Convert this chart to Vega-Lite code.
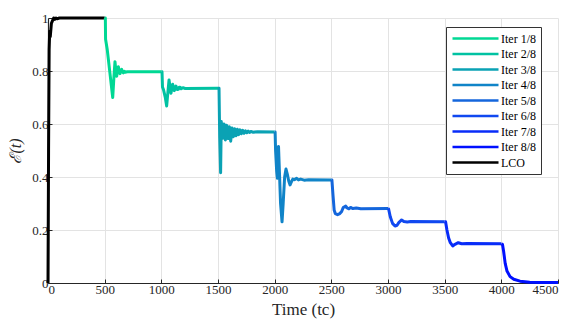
{
  "$schema": "https://vega.github.io/schema/vega-lite/v6.json",
  "width": 510,
  "height": 265,
  "autosize": {"type": "none"},
  "padding": {"left": 48, "top": 18, "right": 23, "bottom": 41},
  "background": "white",
  "config": {
    "font": "Liberation Serif",
    "view": {"stroke": null},
    "legend": {
      "orient": "none",
      "legendX": 398,
      "legendY": 9,
      "symbolType": "M-1,0H8.2",
      "symbolSize": 100,
      "symbolStrokeWidth": 2.5,
      "labelOffset": 37,
      "labelFont": "Liberation Serif",
      "labelFontSize": 12,
      "labelColor": "#000000",
      "rowPadding": 2.5,
      "padding": 5,
      "fillColor": "white",
      "strokeColor": "#333333"
    }
  },
  "data": {
    "values": [
      {"s": "LCO", "t": 0, "e": 0},
      {"s": "LCO", "t": 5, "e": 0.5},
      {"s": "LCO", "t": 10, "e": 0.88},
      {"s": "LCO", "t": 15, "e": 0.95},
      {"s": "LCO", "t": 20, "e": 0.93},
      {"s": "LCO", "t": 30, "e": 0.98},
      {"s": "LCO", "t": 40, "e": 0.99},
      {"s": "LCO", "t": 50, "e": 1.0},
      {"s": "LCO", "t": 60, "e": 0.995},
      {"s": "LCO", "t": 70, "e": 1.0},
      {"s": "LCO", "t": 80, "e": 0.997},
      {"s": "LCO", "t": 100, "e": 1.0},
      {"s": "LCO", "t": 500, "e": 1.0},

      {"s": "Iter 1/8", "t": 500, "e": 1.0},
      {"s": "Iter 1/8", "t": 506, "e": 1.0},
      {"s": "Iter 1/8", "t": 508, "e": 0.92},
      {"s": "Iter 1/8", "t": 523, "e": 0.88},
      {"s": "Iter 1/8", "t": 547, "e": 0.79},
      {"s": "Iter 1/8", "t": 571, "e": 0.70},
      {"s": "Iter 1/8", "t": 582, "e": 0.78},
      {"s": "Iter 1/8", "t": 591, "e": 0.835},
      {"s": "Iter 1/8", "t": 599, "e": 0.80},
      {"s": "Iter 1/8", "t": 606, "e": 0.78},
      {"s": "Iter 1/8", "t": 613, "e": 0.80},
      {"s": "Iter 1/8", "t": 621, "e": 0.816},
      {"s": "Iter 1/8", "t": 628, "e": 0.80},
      {"s": "Iter 1/8", "t": 635, "e": 0.79},
      {"s": "Iter 1/8", "t": 643, "e": 0.80},
      {"s": "Iter 1/8", "t": 650, "e": 0.806},
      {"s": "Iter 1/8", "t": 658, "e": 0.797},
      {"s": "Iter 1/8", "t": 665, "e": 0.793},
      {"s": "Iter 1/8", "t": 673, "e": 0.799},
      {"s": "Iter 1/8", "t": 680, "e": 0.795},
      {"s": "Iter 1/8", "t": 700, "e": 0.797},
      {"s": "Iter 1/8", "t": 1000, "e": 0.797},

      {"s": "Iter 2/8", "t": 1000, "e": 0.797},
      {"s": "Iter 2/8", "t": 1006, "e": 0.797},
      {"s": "Iter 2/8", "t": 1010, "e": 0.74},
      {"s": "Iter 2/8", "t": 1020, "e": 0.728},
      {"s": "Iter 2/8", "t": 1035, "e": 0.70},
      {"s": "Iter 2/8", "t": 1047, "e": 0.668},
      {"s": "Iter 2/8", "t": 1058, "e": 0.72},
      {"s": "Iter 2/8", "t": 1068, "e": 0.766},
      {"s": "Iter 2/8", "t": 1077, "e": 0.74},
      {"s": "Iter 2/8", "t": 1085, "e": 0.716},
      {"s": "Iter 2/8", "t": 1093, "e": 0.735},
      {"s": "Iter 2/8", "t": 1100, "e": 0.75},
      {"s": "Iter 2/8", "t": 1107, "e": 0.738},
      {"s": "Iter 2/8", "t": 1114, "e": 0.726},
      {"s": "Iter 2/8", "t": 1122, "e": 0.735},
      {"s": "Iter 2/8", "t": 1129, "e": 0.743},
      {"s": "Iter 2/8", "t": 1140, "e": 0.73},
      {"s": "Iter 2/8", "t": 1150, "e": 0.731},
      {"s": "Iter 2/8", "t": 1158, "e": 0.739},
      {"s": "Iter 2/8", "t": 1165, "e": 0.739},
      {"s": "Iter 2/8", "t": 1175, "e": 0.733},
      {"s": "Iter 2/8", "t": 1190, "e": 0.737},
      {"s": "Iter 2/8", "t": 1210, "e": 0.734},
      {"s": "Iter 2/8", "t": 1500, "e": 0.735},

      {"s": "Iter 3/8", "t": 1500, "e": 0.735},
      {"s": "Iter 3/8", "t": 1509, "e": 0.735},
      {"s": "Iter 3/8", "t": 1515, "e": 0.55},
      {"s": "Iter 3/8", "t": 1523, "e": 0.416},
      {"s": "Iter 3/8", "t": 1529, "e": 0.609},
      {"s": "Iter 3/8", "t": 1541, "e": 0.546},
      {"s": "Iter 3/8", "t": 1553, "e": 0.60},
      {"s": "Iter 3/8", "t": 1565, "e": 0.54},
      {"s": "Iter 3/8", "t": 1576, "e": 0.595},
      {"s": "Iter 3/8", "t": 1588, "e": 0.545},
      {"s": "Iter 3/8", "t": 1600, "e": 0.59},
      {"s": "Iter 3/8", "t": 1612, "e": 0.535},
      {"s": "Iter 3/8", "t": 1623, "e": 0.585},
      {"s": "Iter 3/8", "t": 1635, "e": 0.552},
      {"s": "Iter 3/8", "t": 1647, "e": 0.582},
      {"s": "Iter 3/8", "t": 1659, "e": 0.556},
      {"s": "Iter 3/8", "t": 1671, "e": 0.58},
      {"s": "Iter 3/8", "t": 1682, "e": 0.56},
      {"s": "Iter 3/8", "t": 1694, "e": 0.578},
      {"s": "Iter 3/8", "t": 1706, "e": 0.563},
      {"s": "Iter 3/8", "t": 1718, "e": 0.576},
      {"s": "Iter 3/8", "t": 1730, "e": 0.565},
      {"s": "Iter 3/8", "t": 1742, "e": 0.574},
      {"s": "Iter 3/8", "t": 1754, "e": 0.567},
      {"s": "Iter 3/8", "t": 1766, "e": 0.573},
      {"s": "Iter 3/8", "t": 1778, "e": 0.568},
      {"s": "Iter 3/8", "t": 1790, "e": 0.572},
      {"s": "Iter 3/8", "t": 1810, "e": 0.569},
      {"s": "Iter 3/8", "t": 1850, "e": 0.571},
      {"s": "Iter 3/8", "t": 2000, "e": 0.570},

      {"s": "Iter 4/8", "t": 2000, "e": 0.570},
      {"s": "Iter 4/8", "t": 2004, "e": 0.570},
      {"s": "Iter 4/8", "t": 2008, "e": 0.50},
      {"s": "Iter 4/8", "t": 2018, "e": 0.42},
      {"s": "Iter 4/8", "t": 2024, "e": 0.395},
      {"s": "Iter 4/8", "t": 2030, "e": 0.50},
      {"s": "Iter 4/8", "t": 2034, "e": 0.515},
      {"s": "Iter 4/8", "t": 2042, "e": 0.42},
      {"s": "Iter 4/8", "t": 2052, "e": 0.30},
      {"s": "Iter 4/8", "t": 2065, "e": 0.231},
      {"s": "Iter 4/8", "t": 2075, "e": 0.30},
      {"s": "Iter 4/8", "t": 2088, "e": 0.40},
      {"s": "Iter 4/8", "t": 2100, "e": 0.43},
      {"s": "Iter 4/8", "t": 2112, "e": 0.41},
      {"s": "Iter 4/8", "t": 2124, "e": 0.385},
      {"s": "Iter 4/8", "t": 2136, "e": 0.37},
      {"s": "Iter 4/8", "t": 2148, "e": 0.382},
      {"s": "Iter 4/8", "t": 2160, "e": 0.392},
      {"s": "Iter 4/8", "t": 2175, "e": 0.39},
      {"s": "Iter 4/8", "t": 2194, "e": 0.395},
      {"s": "Iter 4/8", "t": 2210, "e": 0.389},
      {"s": "Iter 4/8", "t": 2230, "e": 0.392},
      {"s": "Iter 4/8", "t": 2260, "e": 0.388},
      {"s": "Iter 4/8", "t": 2300, "e": 0.390},
      {"s": "Iter 4/8", "t": 2500, "e": 0.389},

      {"s": "Iter 5/8", "t": 2500, "e": 0.389},
      {"s": "Iter 5/8", "t": 2505, "e": 0.389},
      {"s": "Iter 5/8", "t": 2515, "e": 0.33},
      {"s": "Iter 5/8", "t": 2525, "e": 0.275},
      {"s": "Iter 5/8", "t": 2535, "e": 0.262},
      {"s": "Iter 5/8", "t": 2555, "e": 0.258},
      {"s": "Iter 5/8", "t": 2575, "e": 0.262},
      {"s": "Iter 5/8", "t": 2591, "e": 0.27},
      {"s": "Iter 5/8", "t": 2605, "e": 0.285},
      {"s": "Iter 5/8", "t": 2627, "e": 0.29},
      {"s": "Iter 5/8", "t": 2640, "e": 0.283},
      {"s": "Iter 5/8", "t": 2655, "e": 0.28},
      {"s": "Iter 5/8", "t": 2670, "e": 0.285},
      {"s": "Iter 5/8", "t": 2690, "e": 0.281},
      {"s": "Iter 5/8", "t": 2720, "e": 0.283},
      {"s": "Iter 5/8", "t": 2760, "e": 0.28},
      {"s": "Iter 5/8", "t": 3000, "e": 0.281},

      {"s": "Iter 6/8", "t": 3000, "e": 0.281},
      {"s": "Iter 6/8", "t": 3005, "e": 0.28},
      {"s": "Iter 6/8", "t": 3020, "e": 0.25},
      {"s": "Iter 6/8", "t": 3040, "e": 0.225},
      {"s": "Iter 6/8", "t": 3062, "e": 0.215},
      {"s": "Iter 6/8", "t": 3080, "e": 0.218},
      {"s": "Iter 6/8", "t": 3095, "e": 0.228},
      {"s": "Iter 6/8", "t": 3120, "e": 0.238},
      {"s": "Iter 6/8", "t": 3140, "e": 0.232},
      {"s": "Iter 6/8", "t": 3170, "e": 0.23},
      {"s": "Iter 6/8", "t": 3200, "e": 0.232},
      {"s": "Iter 6/8", "t": 3500, "e": 0.231},

      {"s": "Iter 7/8", "t": 3500, "e": 0.231},
      {"s": "Iter 7/8", "t": 3508, "e": 0.231},
      {"s": "Iter 7/8", "t": 3520, "e": 0.20},
      {"s": "Iter 7/8", "t": 3535, "e": 0.17},
      {"s": "Iter 7/8", "t": 3550, "e": 0.152},
      {"s": "Iter 7/8", "t": 3571, "e": 0.14},
      {"s": "Iter 7/8", "t": 3591, "e": 0.146},
      {"s": "Iter 7/8", "t": 3620, "e": 0.152},
      {"s": "Iter 7/8", "t": 3650, "e": 0.148},
      {"s": "Iter 7/8", "t": 3700, "e": 0.149},
      {"s": "Iter 7/8", "t": 4000, "e": 0.148},

      {"s": "Iter 8/8", "t": 4000, "e": 0.148},
      {"s": "Iter 8/8", "t": 4010, "e": 0.146},
      {"s": "Iter 8/8", "t": 4020, "e": 0.12},
      {"s": "Iter 8/8", "t": 4034, "e": 0.074},
      {"s": "Iter 8/8", "t": 4050, "e": 0.045},
      {"s": "Iter 8/8", "t": 4077, "e": 0.024},
      {"s": "Iter 8/8", "t": 4110, "e": 0.014},
      {"s": "Iter 8/8", "t": 4165, "e": 0.007},
      {"s": "Iter 8/8", "t": 4250, "e": 0.003},
      {"s": "Iter 8/8", "t": 4350, "e": 0.002},
      {"s": "Iter 8/8", "t": 4500, "e": 0.002}
    ]
  },
  "mark": {"type": "line", "strokeWidth": 3, "strokeJoin": "round"},
  "encoding": {
    "x": {
      "field": "t",
      "type": "quantitative",
      "scale": {"domain": [0, 4500], "nice": false},
      "axis": {
        "values": [0, 500, 1000, 1500, 2000, 2500, 3000, 3500, 4000, 4500],
        "format": "d",
        "title": "Time (tc)",
        "titlePadding": 5,
        "labelFont": "Liberation Serif",
        "labelFontSize": 13,
        "labelColor": "#262626",
        "labelPadding": 4,
        "titleFont": "Liberation Serif",
        "titleFontSize": 17,
        "titleFontWeight": "normal",
        "titleColor": "#262626",
        "gridColor": "#e3e3e3",
        "domainColor": "#262626",
        "domainWidth": 1.2,
        "tickColor": "#262626",
        "tickSize": -4
      }
    },
    "y": {
      "field": "e",
      "type": "quantitative",
      "scale": {"domain": [0, 1], "nice": false},
      "axis": {
        "values": [0, 0.2, 0.4, 0.6, 0.8, 1],
        "format": "~g",
        "title": "ℰ(t)",
        "titlePadding": 8,
        "labelFont": "Liberation Serif",
        "labelFontSize": 13,
        "labelColor": "#262626",
        "labelPadding": 4,
        "titleFont": "Liberation Serif",
        "titleFontSize": 16,
        "titleFontWeight": "normal",
        "titleFontStyle": "italic",
        "titleColor": "#262626",
        "gridColor": "#e3e3e3",
        "domainColor": "#262626",
        "domainWidth": 1.2,
        "tickColor": "#262626",
        "tickSize": -4
      }
    },
    "color": {
      "field": "s",
      "type": "nominal",
      "scale": {
        "domain": ["Iter 1/8", "Iter 2/8", "Iter 3/8", "Iter 4/8", "Iter 5/8", "Iter 6/8", "Iter 7/8", "Iter 8/8", "LCO"],
        "range": ["#00d894", "#00c2a2", "#0aa2b4", "#1084c8", "#1466dc", "#1048f0", "#082cf8", "#0010ff", "#000000"]
      },
      "legend": {"title": null}
    }
  }
}
